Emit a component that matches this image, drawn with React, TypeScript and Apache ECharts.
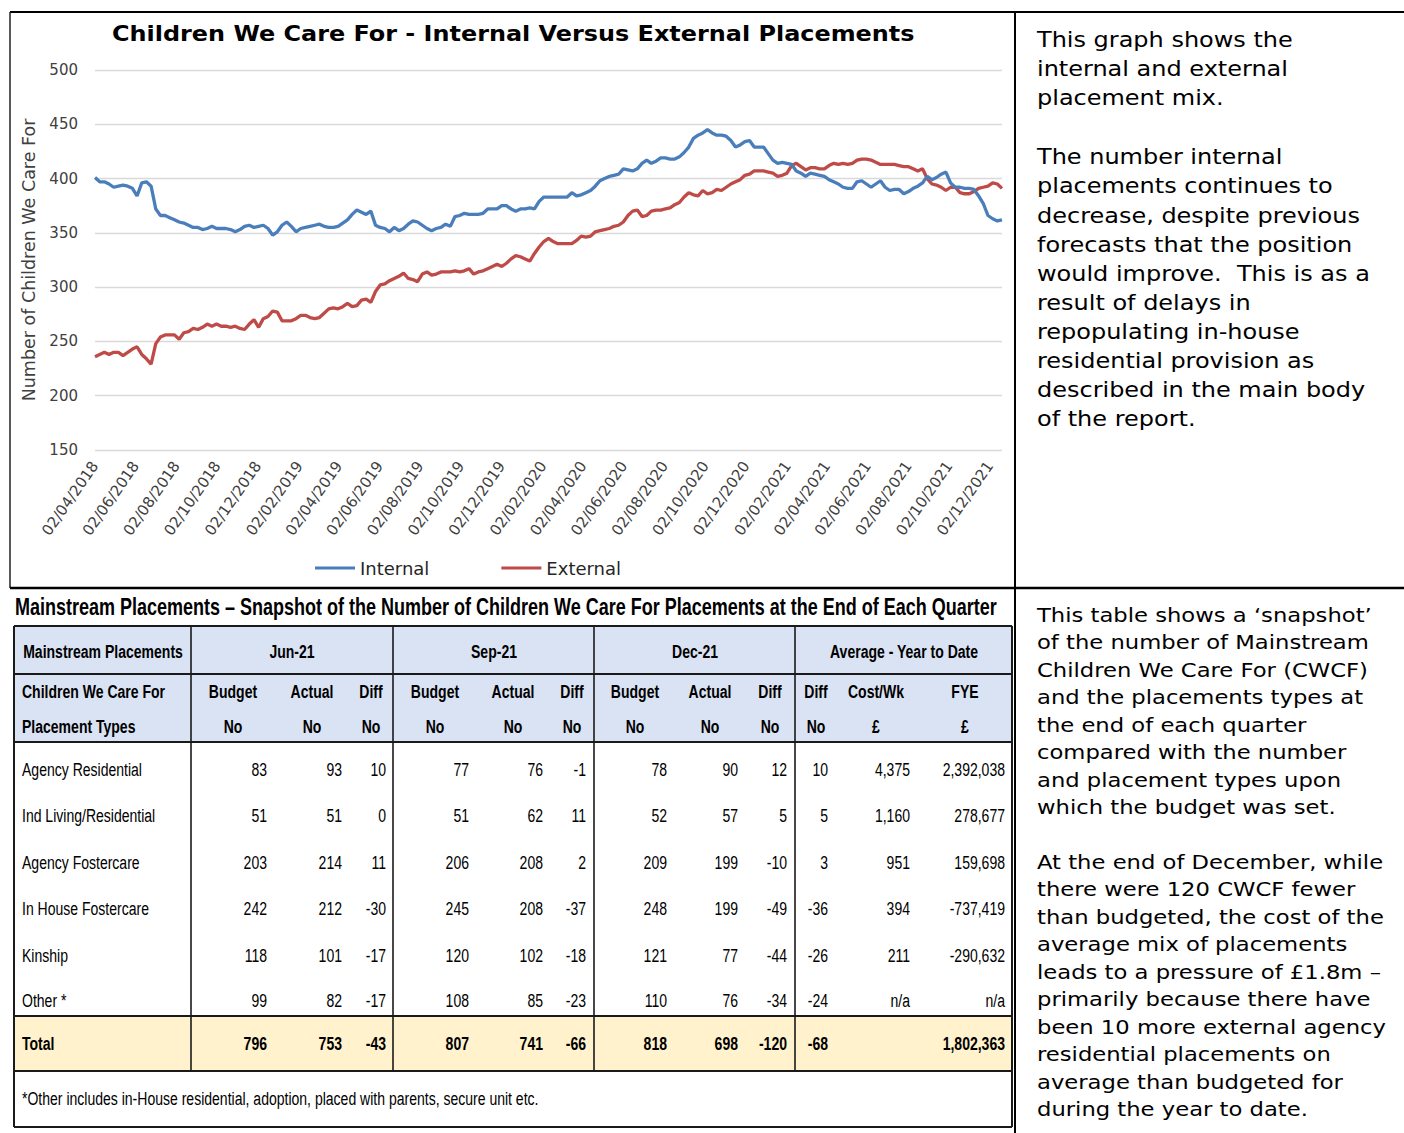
import React, { useEffect, useRef } from "react";
import * as echarts from "echarts";

// ---------- Chart data (weekly, from 02/04/2018) ----------
const internalPlacements = [
  401, 397, 397, 395, 392, 393, 394, 393, 391, 384,
  396, 397, 393, 372, 366, 366, 364, 362, 360, 359,
  357, 355, 355, 353, 354, 356, 354, 354, 354, 353,
  351, 353, 356, 357, 355, 356, 357, 354, 348, 351,
  357, 360, 356, 351, 354, 355, 356, 357, 358, 356,
  355, 355, 356, 359, 362, 367, 371, 369, 367, 370,
  357, 355, 354, 351, 355, 352, 354, 358, 361, 360,
  357, 354, 352, 354, 355, 358, 356, 365, 366, 368,
  367, 367, 367, 368, 372, 372, 372, 375, 375, 372,
  370, 372, 372, 373, 372, 379, 383, 383, 383, 383,
  383, 383, 387, 384, 385, 387, 389, 393, 398, 400,
  402, 403, 404, 409, 408, 407, 409, 414, 417, 414,
  416, 419, 419, 418, 418, 420, 424, 429, 437, 440,
  442, 445, 442, 440, 440, 439, 435, 429, 431, 434,
  435, 429, 429, 429, 423, 417, 414, 415, 414, 413,
  407, 405, 402, 405, 404, 403, 402, 399, 397, 395,
  392, 391, 391, 397, 398, 395, 392, 395, 398, 392,
  389, 390, 390, 386, 388, 391, 393, 396, 402, 399,
  401, 404, 406, 396, 392, 392, 391, 391, 390, 384,
  377, 366, 363, 361, 362,
];

const externalPlacements = [
  236, 238, 240, 238, 240, 240, 237, 240, 243, 245,
  238, 234, 229, 248, 254, 256, 256, 256, 252, 258,
  259, 262, 261, 263, 266, 264, 266, 264, 264, 263,
  264, 262, 261, 266, 270, 263, 271, 273, 278, 277,
  269, 269, 269, 271, 274, 274, 272, 271, 272, 276,
  280, 281, 280, 282, 285, 282, 283, 288, 289, 286,
  296, 302, 303, 306, 308, 310, 313, 308, 307, 305,
  312, 314, 311, 312, 314, 314, 314, 315, 314, 315,
  317, 312, 314, 315, 317, 319, 321, 319, 322, 326,
  329, 328, 326, 324, 331, 337, 342, 345, 342, 340,
  340, 340, 340, 343, 347, 346, 347, 351, 352, 353,
  354, 356, 357, 360, 366, 370, 371, 365, 366, 370,
  371, 371, 372, 373, 376, 378, 383, 387, 385, 384,
  389, 386, 387, 390, 389, 392, 395, 397, 399, 403,
  404, 407, 407, 407, 406, 405, 402, 403, 405, 412,
  414, 411, 408, 410, 410, 409, 409, 412, 414, 413,
  414, 413, 414, 417, 418, 418, 417, 415, 413, 413,
  413, 413, 412, 411, 411, 409, 407, 409, 400, 395,
  394, 392, 389, 392, 392, 387, 386, 386, 388, 391,
  392, 393, 396, 395, 391,
];

const seriesNames = ["Internal", "External"];
const chartTitle = "Children We Care For - Internal Versus External Placements";
const yAxisTitle = "Number of Children We Care For";
const yMin = 150;
const yMax = 500;
const yStep = 50;

// ---------- Table data ----------
const tableTitle =
  "Mainstream Placements \u2013 Snapshot of the Number of Children We Care For Placements at the End of Each Quarter";
const quarterHeaders = ["Jun-21", "Sep-21", "Dec-21", "Average - Year to Date"];
const columnHeads = ["Budget", "Actual", "Diff", "Budget", "Actual", "Diff", "Budget", "Actual", "Diff", "Diff", "Cost/Wk", "FYE"];
const columnUnits = ["No", "No", "No", "No", "No", "No", "No", "No", "No", "No", "\u00a3", "\u00a3"];
const rowLabels = ["Agency Residential", "Ind Living/Residential", "Agency Fostercare", "In House Fostercare", "Kinship", "Other *"];
const jun21Budget = [83, 51, 203, 242, 118, 99];
const jun21Actual = [93, 51, 214, 212, 101, 82];
const jun21Diff = [10, 0, 11, -30, -17, -17];
const sep21Budget = [77, 51, 206, 245, 120, 108];
const sep21Actual = [76, 62, 208, 208, 102, 85];
const sep21Diff = [-1, 11, 2, -37, -18, -23];
const dec21Budget = [78, 52, 209, 248, 121, 110];
const dec21Actual = [90, 57, 199, 199, 77, 76];
const dec21Diff = [12, 5, -10, -49, -44, -34];
const avgDiff = [10, 5, 3, -36, -26, -24];
const avgCostPerWeek = ["4,375", "1,160", "951", "394", "211", "n/a"];
const avgFye = ["2,392,038", "278,677", "159,698", "-737,419", "-290,632", "n/a"];
const totalRow = ["796", "753", "-43", "807", "741", "-66", "818", "698", "-120", "-68", "", "1,802,363"];
const footnote = "*Other includes in-House residential, adoption, placed with parents, secure unit etc.";

// ---------- Commentary ----------
const commentaryChart1 = ["This graph shows the", "internal and external", "placement mix."];
const commentaryChart2 = [
  "The number internal",
  "placements continues to",
  "decrease, despite previous",
  "forecasts that the position",
  "would improve.  This is as a",
  "result of delays in",
  "repopulating in-house",
  "residential provision as",
  "described in the main body",
  "of the report.",
];
const commentaryTable1 = [
  "This table shows a \u2018snapshot\u2019",
  "of the number of Mainstream",
  "Children We Care For (CWCF)",
  "and the placements types at",
  "the end of each quarter",
  "compared with the number",
  "and placement types upon",
  "which the budget was set.",
];
const commentaryTable2 = [
  "At the end of December, while",
  "there were 120 CWCF fewer",
  "than budgeted, the cost of the",
  "average mix of placements",
  "leads to a pressure of \u00a31.8m \u2013",
  "primarily because there have",
  "been 10 more external agency",
  "residential placements on",
  "average than budgeted for",
  "during the year to date.",
];

const START_UTC = Date.UTC(2018, 3, 2);
const DAY = 86400000;
const pad = (n: number) => (n < 10 ? "0" + n : "" + n);
const fmtDay = (d: number) => {
  const dt = new Date(START_UTC + d * DAY);
  return pad(dt.getUTCDate()) + "/" + pad(dt.getUTCMonth() + 1) + "/" + dt.getUTCFullYear();
};

function measure(text: string, font: string) {
  const c = document.createElement("canvas").getContext("2d") as CanvasRenderingContext2D;
  c.font = font;
  return c.measureText(text).width || 1;
}

export default function App() {
  const ref = useRef<HTMLDivElement>(null);
  useEffect(() => {
    document.body.style.margin = "0";
    if (!ref.current) return;
    const chart = echarts.init(ref.current, undefined, { renderer: "svg" });

    const nDays = 7 * (internalPlacements.length - 1);
    const dayLabels: string[] = [];
    for (let d = 0; d <= nDays; d++) dayLabels.push(fmtDay(d));
    const weekLabel = (i: number) => dayLabels[7 * i];
    const showLabel = (_i: number, v: string) => {
      const p = v.split("/");
      return p[0] === "02" && parseInt(p[1], 10) % 2 === 0;
    };

    const TF = '"Liberation Sans", Arial, sans-serif';
    const VF = '"DejaVu Sans", Verdana, sans-serif';
    const tScale = 120 / measure("Agency Residential", `19px ${TF}`);
    const titleScale = 803 / measure(chartTitle, `bold 22px ${VF}`);
    const tableTitleScale = 983 / measure(tableTitle, `bold 23px ${TF}`);
    const upScale = 256 / measure(commentaryChart1[0], `20.5px ${VF}`);
    const lowScale = 346 / measure(commentaryTable2[0], `19.3px ${VF}`);

    const g: any[] = [];
    const line = (x1: number, y1: number, x2: number, y2: number, w = 2, c = "#1a1a1a") =>
      g.push({ type: "line", silent: true, shape: { x1, y1, x2, y2 }, style: { stroke: c, lineWidth: w } });
    const rect = (x: number, y: number, w: number, h: number, fill: string) =>
      g.push({ type: "rect", silent: true, shape: { x, y, width: w, height: h }, style: { fill } });
    const txt = (
      t: string, x: number, y: number,
      o: { size?: number; family?: string; weight?: string; align?: string; scale?: number; va?: string; lh?: number; color?: string } = {}
    ) =>
      g.push({
        type: "text", silent: true, x, y, scaleX: o.scale ?? tScale,
        style: {
          text: t, x: 0, y: 0,
          fontSize: o.size ?? 19, fontFamily: o.family ?? TF, fontWeight: o.weight ?? "normal",
          fill: o.color ?? "#000", align: o.align ?? "left", verticalAlign: o.va ?? "middle",
          lineHeight: o.lh,
        },
      });

    // chart title
    txt(chartTitle, 112, 33, { size: 22, family: VF, weight: "bold", scale: titleScale });

    // page frame
    line(10, 12, 1404, 12, 2, "#000");
    line(10, 12, 10, 588, 1.5, "#222");
    line(1015, 12, 1015, 1133, 2, "#000");
    line(10, 588, 1404, 588, 2.5, "#000");

    // commentary
    txt(commentaryChart1.join("\n"), 1037, 25, { size: 20.5, family: VF, va: "top", lh: 29.1, scale: upScale });
    txt(commentaryChart2.join("\n"), 1037, 142.5, { size: 20.5, family: VF, va: "top", lh: 29.1, scale: upScale });
    txt(commentaryTable1.join("\n"), 1037, 601.3, { size: 19.3, family: VF, va: "top", lh: 27.5, scale: lowScale });
    txt(commentaryTable2.join("\n"), 1037, 848.3, { size: 19.3, family: VF, va: "top", lh: 27.5, scale: lowScale });

    // table
    const TL = 14, TR = 1012, TT = 626, TB = 1127;
    txt(tableTitle, 15, 607, { size: 23, weight: "bold", scale: tableTitleScale });
    rect(TL, TT, TR - TL, 742 - TT, "#DAE3F3");
    rect(TL, 1016, TR - TL, 1071 - 1016, "#FFF2CC");
    [674, 742, 1016, 1071].forEach((y) => line(TL, y, TR, y, 1.8));
    [191, 393, 594, 795].forEach((x) => line(x, TT, x, 1071, 1.6));
    line(TL, TT, TR, TT, 2);
    line(TL, TB, TR, TB, 2);
    line(TL, TT, TL, TB, 2);
    line(TR, TT, TR, TB, 2);

    const colCenters = [233, 312, 371, 435, 513, 572, 635, 710, 770, 816, 876, 965];
    const colRights = [267, 342, 386, 469, 543, 586, 667, 738, 787, 828, 910, 1005];
    const quarterCenters = [292, 494, 695, 904];
    const rowYs = [770, 816, 862.5, 909, 955.5, 1001];

    txt("Mainstream Placements", 103, 652, { weight: "bold", align: "center" });
    quarterHeaders.forEach((q, i) => txt(q, quarterCenters[i], 652, { weight: "bold", align: "center" }));
    txt("Children We Care For", 22, 692, { weight: "bold" });
    txt("Placement Types", 22, 727, { weight: "bold" });
    columnHeads.forEach((h, i) => txt(h, colCenters[i], 692, { weight: "bold", align: "center" }));
    columnUnits.forEach((h, i) => txt(h, colCenters[i], 727, { weight: "bold", align: "center" }));

    const columns: (number | string)[][] = [
      jun21Budget, jun21Actual, jun21Diff,
      sep21Budget, sep21Actual, sep21Diff,
      dec21Budget, dec21Actual, dec21Diff,
      avgDiff, avgCostPerWeek, avgFye,
    ];
    rowLabels.forEach((lab, r) => {
      txt(lab, 22, rowYs[r]);
      columns.forEach((col, c) => txt(String(col[r]), colRights[c], rowYs[r], { align: "right" }));
    });
    txt("Total", 22, 1044, { weight: "bold" });
    totalRow.forEach((v, c) => v && txt(v, colRights[c], 1044, { weight: "bold", align: "right" }));
    txt(footnote, 22, 1099);

    const option: any = {
      animation: false,
      backgroundColor: "#ffffff",
      grid: { left: 95, top: 70, width: 907, height: 380, containLabel: false, outerBoundsMode: "none" },
      legend: {
        left: 310,
        top: 554,
        icon: "rect",
        itemWidth: 40,
        itemHeight: 3,
        itemGap: 72,
        data: seriesNames,
        textStyle: { fontSize: 18, fontFamily: VF, color: "#262626" },
      },
      xAxis: {
        type: "category",
        data: dayLabels,
        boundaryGap: false,
        axisLine: { show: false },
        axisTick: { show: false },
        splitLine: { show: false },
        axisLabel: {
          interval: showLabel,
          rotate: 55,
          fontSize: 15,
          fontFamily: VF,
          color: "#404040",
          margin: 13,
        },
      },
      yAxis: {
        type: "value",
        min: yMin,
        max: yMax,
        interval: yStep,
        name: yAxisTitle,
        nameLocation: "middle",
        nameGap: 57,
        nameTextStyle: { fontSize: 17.5, fontFamily: VF, color: "#404040" },
        axisLine: { show: false },
        axisTick: { show: false },
        axisLabel: { fontSize: 15, fontFamily: VF, color: "#404040", margin: 17 },
        splitLine: { lineStyle: { color: "#D9D9D9", width: 1.3 } },
      },
      series: [
        {
          name: seriesNames[0],
          type: "line",
          showSymbol: false,
          data: internalPlacements.map((v, i) => [weekLabel(i), v]),
          lineStyle: { width: 3.3, color: "#4A7EBB" },
          itemStyle: { color: "#4A7EBB" },
          z: 3,
        },
        {
          name: seriesNames[1],
          type: "line",
          showSymbol: false,
          data: externalPlacements.map((v, i) => [weekLabel(i), v]),
          lineStyle: { width: 3.3, color: "#BE4B48" },
          itemStyle: { color: "#BE4B48" },
          z: 2,
        },
      ],
      graphic: g,
    };
    chart.setOption(option);
    return () => chart.dispose();
  }, []);
  return <div ref={ref} style={{ width: 1404, height: 1133 }} />;
}
